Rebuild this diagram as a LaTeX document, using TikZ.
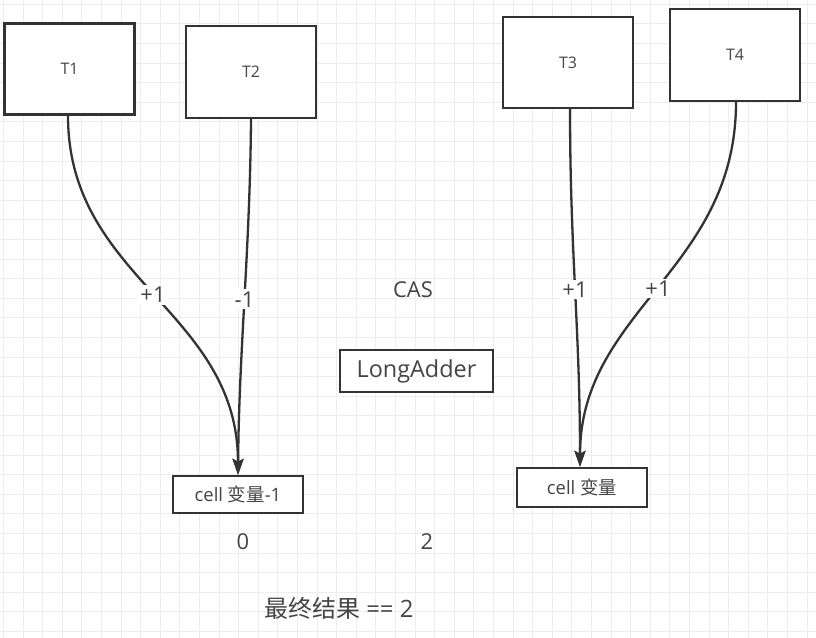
\documentclass[tikz,border=0pt]{standalone}
\usepackage{fontspec}
\setmainfont{Open Sans}
\newfontfamily\cjk{Noto Sans CJK SC}
\usetikzlibrary{arrows.meta}
\definecolor{ink}{HTML}{333333}
\definecolor{txt}{HTML}{444444}
\definecolor{gridc}{HTML}{EDEDED}
\begin{document}
\begin{tikzpicture}[x=1bp,y=-1bp,
  gridline/.style={draw=gridc,line width=0.9bp},
  box/.style={draw=ink,line width=2.4bp,fill=white,inner sep=0pt,text=txt},
  tbox/.style={box,minimum width=130bp,minimum height=91bp,font=\fontsize{16}{18}\selectfont},
  conn/.style={draw=ink,line width=2.3bp,-{Stealth[length=16bp,width=11bp,inset=3bp]}},
  lbl/.style={fill=white,text=txt,inner sep=2bp,font=\fontsize{22}{26}\selectfont},
  plain/.style={text=txt,inner sep=0pt}]
\useasboundingbox (0,0) rectangle (816,638);
\fill[white] (0,0) rectangle (816,638);
\foreach \i in {0,...,41} \draw[gridline] (3.4+19.6*\i,0) -- (3.4+19.6*\i,638);
\foreach \j in {0,...,32} \draw[gridline] (0,4.2+19.6*\j) -- (816,4.2+19.6*\j);

\node[tbox] (t1) at (69.5,69) {T1};
\node[tbox,minimum height=92bp] (t2) at (251,72) {T2};
\node[tbox] (t3) at (568,62.5) {T3};
\node[tbox,minimum height=92bp] (t4) at (735,55) {T4};

\node[box,minimum width=153bp,minimum height=42bp,font=\fontsize{23.5}{26}\selectfont] (la) at (416.5,371) {LongAdder};
\node[box,minimum width=130bp,minimum height=37bp,font=\fontsize{18.5}{22}\selectfont] (c1) at (238,494.5) {cell {\cjk 变量}-1};
\node[box,minimum width=130bp,minimum height=39bp,font=\fontsize{18.5}{22}\selectfont] (c2) at (582,487.5) {cell {\cjk 变量}};

\node[plain,font=\fontsize{22}{26}\selectfont] (cas) at (413,290) {CAS};
\node[plain,font=\fontsize{22}{26}\selectfont] (z0) at (243,542) {0};
\node[plain,font=\fontsize{22}{26}\selectfont] (z2) at (427,542) {2};
\node[plain,font=\fontsize{24}{28}\selectfont] (res) at (339,608) {{\cjk 最终结果} == 2};

\draw[conn] ([xshift=-1.5bp]t1.south) .. controls (68,280) and (238,310) .. (c1.north)
  node[lbl,pos=0.5] {+1};
\draw[conn] (t2.south) .. controls (250,250) and (239,350) .. (c1.north)
  node[lbl,pos=0.5] {-1};
\draw[conn] ([xshift=2bp]t3.south) .. controls (570,250) and (580,330) .. ([xshift=-2bp]c2.north)
  node[lbl,pos=0.5] {+1};
\draw[conn] ([xshift=1bp]t4.south) .. controls (736,270) and (580,310) .. ([xshift=-2bp]c2.north)
  node[lbl,pos=0.5] {+1};
\end{tikzpicture}
\end{document}
